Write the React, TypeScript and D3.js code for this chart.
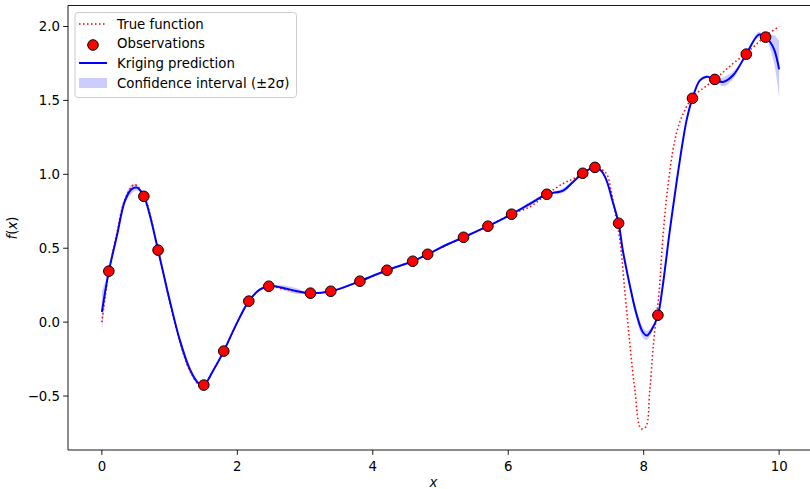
import React from "react";
import * as d3 from "d3";

// observations (x, f(x))
const obsX = [0.103, 0.62, 0.83, 1.505, 1.8, 2.17, 2.465, 3.08, 3.38, 3.81, 4.21, 4.59, 4.81, 5.34, 5.7, 6.05, 6.57, 7.1, 7.28, 7.63, 8.21, 8.72, 9.05, 9.515, 9.8];
const obsY = [0.345, 0.851, 0.487, -0.426, -0.196, 0.142, 0.243, 0.196, 0.209, 0.277, 0.351, 0.412, 0.459, 0.574, 0.649, 0.73, 0.865, 1.007, 1.047, 0.669, 0.047, 1.514, 1.642, 1.813, 1.928];

// true function
const trueX = [0, 0.1, 0.22, 0.34, 0.48, 0.62, 0.71, 0.83, 1.0, 1.15, 1.3, 1.48, 1.64, 1.8, 2.0, 2.17, 2.33, 2.465, 2.7, 3.08, 3.38, 3.81, 4.21, 4.59, 4.81, 5.34, 5.7, 6.05, 6.32, 6.57, 6.81, 6.96, 7.1, 7.28, 7.35, 7.45, 7.52, 7.57, 7.65, 7.72, 7.79, 7.87, 7.96, 8.03, 8.09, 8.15, 8.23, 8.28, 8.35, 8.46, 8.56, 8.72, 8.93, 9.12, 9.32, 9.52, 9.81, 10.0];
const trueY = [0.0, 0.33, 0.6, 0.83, 0.93, 0.86, 0.73, 0.49, 0.14, -0.13, -0.33, -0.44, -0.33, -0.196, 0.0, 0.142, 0.22, 0.243, 0.222, 0.196, 0.209, 0.277, 0.351, 0.412, 0.459, 0.574, 0.649, 0.73, 0.78, 0.865, 0.937, 0.97, 1.007, 1.047, 1.04, 1.005, 0.89, 0.76, 0.55, 0.216, -0.12, -0.46, -0.72, -0.71, -0.46, -0.12, 0.216, 0.55, 0.89, 1.23, 1.385, 1.52, 1.6, 1.67, 1.75, 1.82, 1.94, 2.0];

// kriging prediction and half width of the 2-sigma band
const krigX = [0, 0.05, 0.103, 0.22, 0.34, 0.44, 0.52, 0.62, 0.71, 0.83, 1.0, 1.15, 1.3, 1.42, 1.505, 1.64, 1.8, 1.99, 2.17, 2.33, 2.465, 2.65, 2.85, 3.08, 3.38, 3.6, 3.81, 4.21, 4.59, 4.81, 5.05, 5.34, 5.7, 6.05, 6.32, 6.57, 6.81, 6.96, 7.1, 7.28, 7.38, 7.45, 7.54, 7.63, 7.69, 7.79, 7.89, 7.99, 8.05, 8.12, 8.21, 8.28, 8.38, 8.49, 8.58, 8.64, 8.72, 8.83, 8.93, 9.05, 9.17, 9.32, 9.515, 9.7, 9.8, 9.86, 9.93, 10.0];
const krigY = [0.07, 0.21, 0.345, 0.58, 0.82, 0.9, 0.91, 0.851, 0.72, 0.487, 0.15, -0.12, -0.32, -0.41, -0.426, -0.33, -0.196, -0.01, 0.142, 0.22, 0.243, 0.235, 0.212, 0.196, 0.209, 0.24, 0.277, 0.351, 0.412, 0.459, 0.515, 0.574, 0.649, 0.73, 0.8, 0.865, 0.89, 0.95, 1.007, 1.047, 1.02, 0.96, 0.82, 0.669, 0.49, 0.26, 0.06, -0.07, -0.09, -0.05, 0.047, 0.24, 0.6, 0.96, 1.23, 1.38, 1.514, 1.635, 1.66, 1.642, 1.625, 1.67, 1.813, 1.945, 1.928, 1.9, 1.84, 1.71];
const krigHw = [0.14, 0.06, 0, 0.02, 0.025, 0.03, 0.02, 0, 0.01, 0, 0.015, 0.02, 0.02, 0.01, 0, 0.01, 0, 0.01, 0, 0.01, 0, 0.015, 0.02, 0, 0, 0.008, 0, 0, 0, 0, 0.008, 0, 0, 0, 0.015, 0, 0.015, 0.01, 0, 0, 0.01, 0.01, 0.01, 0, 0.01, 0.02, 0.03, 0.035, 0.03, 0.02, 0, 0.01, 0.015, 0.015, 0.01, 0.01, 0, 0.01, 0.01, 0, 0.03, 0.025, 0, 0.02, 0, 0.04, 0.1, 0.19];

const xTicks = [0, 2, 4, 6, 8, 10];
const yTicks = [-0.5, 0, 0.5, 1, 1.5, 2];

const W = 810;
const H = 489;
const left = 68;
const right = 813;
const top = 5.5;
const bottom = 450;
const font = "DejaVu Sans, sans-serif";

const App = () => {
  const x = d3.scaleLinear().domain([-0.5, 10.5]).range([left, right]);
  const y = d3.scaleLinear().domain([-0.865, 2.142]).range([bottom, top]);

  const curve = d3.curveCatmullRom.alpha(0.5);
  const trueLine = d3
    .line<number>()
    .x((d) => x(trueX[d]))
    .y((d) => y(trueY[d]))
    .curve(curve)(d3.range(trueX.length));
  const krigLine = d3
    .line<number>()
    .x((d) => x(krigX[d]))
    .y((d) => y(krigY[d]))
    .curve(curve)(d3.range(krigX.length));
  const band = d3
    .area<number>()
    .x((d) => x(krigX[d]))
    .y0((d) => y(krigY[d] - krigHw[d]))
    .y1((d) => y(krigY[d] + krigHw[d]))
    .curve(curve)(d3.range(krigX.length));

  const fmt = (v: number) => (v < 0 ? "\u2212" + Math.abs(v).toFixed(1) : v.toFixed(1));

  return (
    <svg width={W} height={H} style={{ position: "absolute", left: 0, top: 0 }} fontFamily={font}>
      <rect width={W} height={H} fill="#fff" />
      <defs>
        <clipPath id="plot">
          <rect x={left} y={top} width={right - left} height={bottom - top} />
        </clipPath>
      </defs>
      <g clipPath="url(#plot)">
        <path d={band ?? ""} fill="#0000ff" fillOpacity={0.2} />
        <path d={trueLine ?? ""} fill="none" stroke="#ff0000" strokeWidth={1.5} strokeDasharray="1.5 2.5" />
        <path d={krigLine ?? ""} fill="none" stroke="#0000ff" strokeWidth={2} />
        {obsX.map((v, i) => (
          <circle key={i} cx={x(v)} cy={y(obsY[i])} r={5.3} fill="#ff0000" stroke="#000" strokeWidth={1} />
        ))}
      </g>

      {/* spines */}
      <line x1={left} x2={left} y1={top} y2={bottom} stroke="#000" strokeWidth={0.9} />
      <line x1={left} x2={right} y1={bottom} y2={bottom} stroke="#000" strokeWidth={0.9} />
      <line x1={left} x2={right} y1={top} y2={top} stroke="#000" strokeWidth={0.9} />

      {xTicks.map((t) => (
        <g key={t} transform={`translate(${x(t)},${bottom})`}>
          <line y2={4.9} stroke="#000" strokeWidth={0.9} />
          <text y={21} textAnchor="middle" fontSize={13.3}>
            {t}
          </text>
        </g>
      ))}
      {yTicks.map((t) => (
        <g key={t} transform={`translate(${left},${y(t)})`}>
          <line x2={-4.9} stroke="#000" strokeWidth={0.9} />
          <text x={-8} dy="0.35em" textAnchor="end" fontSize={13.3}>
            {fmt(t)}
          </text>
        </g>
      ))}

      <text x={(left + right) / 2 - 7} y={487} textAnchor="middle" fontSize={13.3} fontStyle="italic">
        x
      </text>
      <text transform="translate(17,228) rotate(-90)" textAnchor="middle" fontSize={13.3}>
        <tspan fontStyle="italic">f</tspan>
        <tspan>(</tspan>
        <tspan fontStyle="italic">x</tspan>
        <tspan>)</tspan>
      </text>

      {/* legend */}
      <g>
        <rect x={75} y={12.5} width={221.5} height={85} rx={3} fill="#fff" fillOpacity={0.8} stroke="#ccc" strokeWidth={1} />
        <line x1={79} x2={107} y1={24} y2={24} stroke="#ff0000" strokeWidth={1.5} strokeDasharray="1.5 2.5" />
        <circle cx={93} cy={45} r={5.3} fill="#ff0000" stroke="#000" strokeWidth={1} />
        <line x1={79} x2={107} y1={63} y2={63} stroke="#0000ff" strokeWidth={2} />
        <rect x={79} y={78} width={28} height={10} fill="#0000ff" fillOpacity={0.2} />
        <text x={117} y={28.5} fontSize={13.3}>True function</text>
        <text x={117} y={48} fontSize={13.3}>Observations</text>
        <text x={117} y={67.5} fontSize={13.3}>Kriging prediction</text>
        <text x={117} y={87.5} fontSize={13.3}>Confidence interval (±2σ)</text>
      </g>
    </svg>
  );
};

export default App;
